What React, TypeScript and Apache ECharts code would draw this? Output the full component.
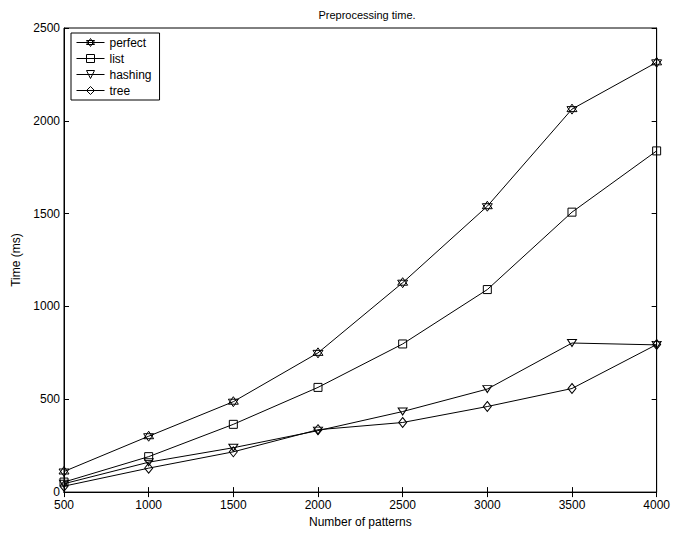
import React, { useEffect, useRef } from "react";
import * as echarts from "echarts";

const patterns = [500, 1000, 1500, 2000, 2500, 3000, 3500, 4000];
const perfect = [111, 301, 487, 750, 1128, 1540, 2063, 2315];
const list = [54, 191, 365, 564, 798, 1091, 1508, 1838];
const hashing = [45, 161, 239, 331, 434, 555, 803, 793];
const tree = [32, 129, 217, 336, 375, 461, 558, 795];
const seriesNames = ["perfect", "list", "hashing", "tree"];

const HEX = "path://M0,-10 L8.66,5 L-8.66,5 Z M0,10 L8.66,-5 L-8.66,-5 Z";
const SQUARE = "path://M0,0 L10,0 L10,10 L0,10 Z";
const TRI_DOWN = "path://M0,0 L10,0 L5,8 Z";
const DIAMOND = "path://M5,0 L10,6 L5,12 L0,6 Z";

export default function App() {
  const ref = useRef<HTMLDivElement>(null);
  useEffect(() => {
    document.body.style.margin = "0";
    document.documentElement.style.overflow = "hidden";
    const chart = echarts.init(ref.current!, null, { renderer: "svg" });
    const font = "Liberation Sans, Arial, Helvetica, sans-serif";
    const mk = (name: string, data: number[], symbol: string, size: number | number[]) => ({
      name,
      type: "line",
      color: "#000",
      data: patterns.map((p, i) => [p, data[i]]),
      symbol,
      symbolSize: size,
      showAllSymbol: true,
      lineStyle: { color: "#000", width: 1 },
      itemStyle: { color: "none", borderColor: "#000", borderWidth: 1 },
      emphasis: { disabled: true },
    });
    const fmt = (v: number) => String(v);
    chart.setOption({
      animation: false,
      backgroundColor: "#fff",
      textStyle: { fontFamily: font },
      title: {
        text: "Preprocessing time.",
        left: 362,
        textAlign: "center",
        top: 4,
        textStyle: { fontSize: 11, fontWeight: "normal", color: "#000", fontFamily: font },
      },
      legend: {
        data: seriesNames,
        left: 71,
        top: 33,
        orient: "vertical",
        backgroundColor: "#fff",
        borderColor: "#000",
        borderWidth: 1,
        borderRadius: 0,
        padding: [3, 8, 3, 5],
        itemGap: 3,
        itemWidth: 28,
        itemHeight: 10,
        itemStyle: { color: "none", borderColor: "#000", borderWidth: 1 },
        lineStyle: { color: "#000", width: 1 },
        textStyle: { fontSize: 12, color: "#000", fontFamily: font },
      },
      grid: { left: 64, right: 14, top: 28, bottom: 36, show: true, borderColor: "#000", borderWidth: 1 },
      xAxis: [
        {
          type: "value",
          min: 500,
          max: 4000,
          interval: 500,
          name: "Number of patterns",
          nameLocation: "middle",
          nameGap: 21,
          nameTextStyle: { fontSize: 12, color: "#000" },
          axisLine: { lineStyle: { color: "#000" } },
          axisTick: { inside: true, length: 5, lineStyle: { color: "#000" } },
          axisLabel: { fontSize: 12, color: "#000", margin: 7, formatter: fmt },
          splitLine: { show: false },
        },
        {
          type: "value",
          position: "top",
          min: 500,
          max: 4000,
          interval: 500,
          axisLine: { show: true, lineStyle: { color: "#000" } },
          axisTick: { show: true, inside: true, length: 5, lineStyle: { color: "#000" } },
          axisLabel: { show: false },
          splitLine: { show: false },
        },
      ],
      yAxis: [
        {
          type: "value",
          min: 0,
          max: 2500,
          interval: 500,
          name: "Time (ms)",
          nameLocation: "middle",
          nameGap: 41,
          nameTextStyle: { fontSize: 12, color: "#000" },
          axisLine: { show: true, lineStyle: { color: "#000" } },
          axisTick: { show: true, inside: true, length: 5, lineStyle: { color: "#000" } },
          axisLabel: { fontSize: 12, color: "#000", margin: 4, formatter: fmt, verticalAlign: "middle" },
          splitLine: { show: false },
        },
        {
          type: "value",
          position: "right",
          min: 0,
          max: 2500,
          interval: 500,
          axisLine: { show: true, lineStyle: { color: "#000" } },
          axisTick: { show: true, inside: true, length: 5, lineStyle: { color: "#000" } },
          axisLabel: { show: false },
          splitLine: { show: false },
        },
      ],
      series: [
        mk("perfect", perfect, HEX, 10),
        mk("list", list, SQUARE, 8),
        mk("hashing", hashing, TRI_DOWN, [9, 7]),
        mk("tree", tree, DIAMOND, [8, 10]),
      ],
    });
    return () => chart.dispose();
  }, []);
  return <div ref={ref} style={{ width: 673, height: 533 }} />;
}
